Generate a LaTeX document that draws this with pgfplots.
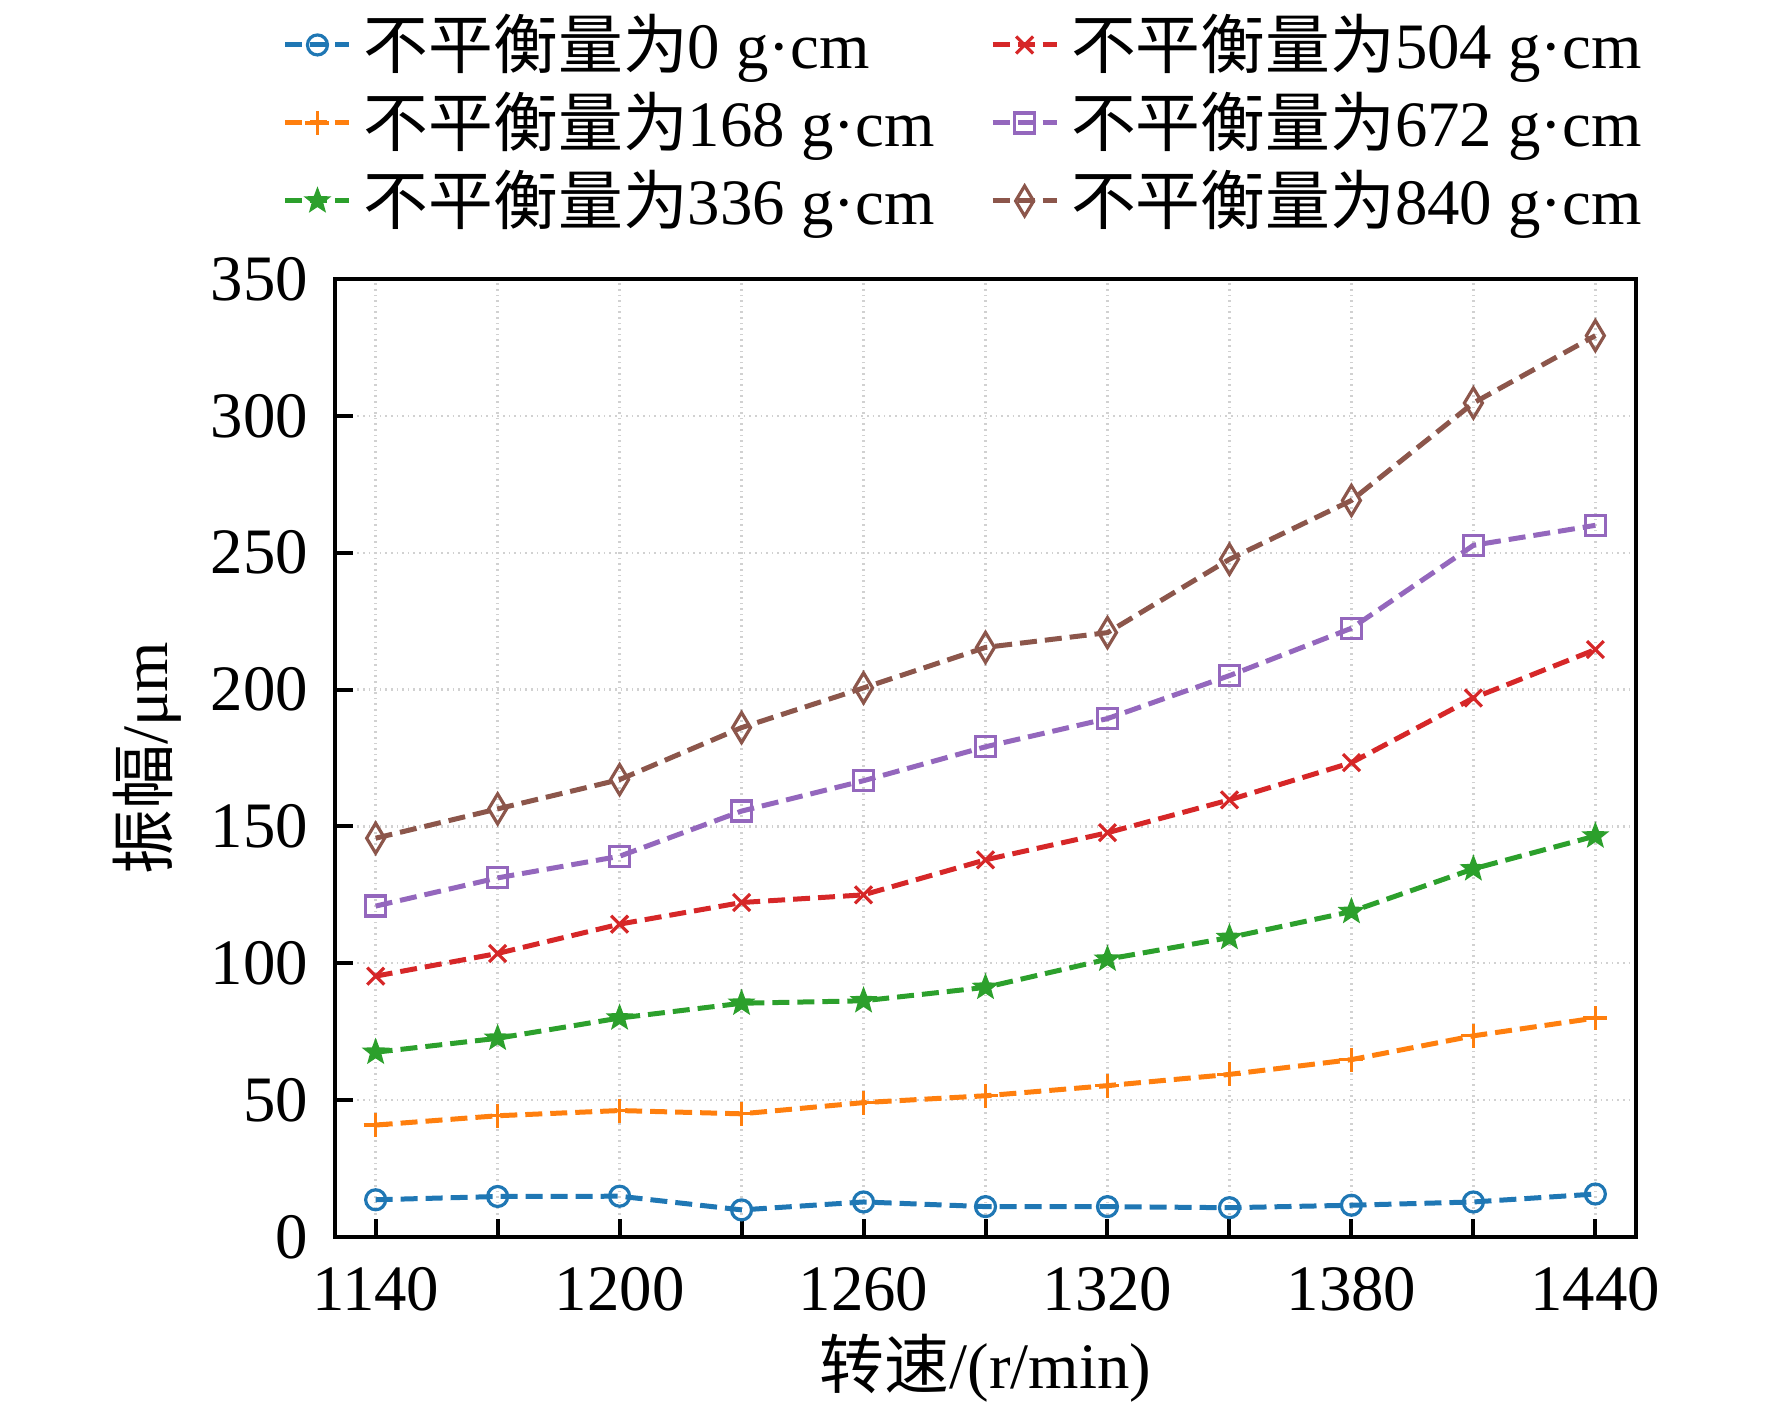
\documentclass[border=0pt]{standalone}
\usepackage{fontspec}
\setmainfont{Liberation Serif}
\newfontfamily\cjk{Noto Sans CJK SC}
\usepackage{pgfplots}
\pgfplotsset{compat=1.18}

\definecolor{tabblue}{HTML}{1F77B4}
\definecolor{taborange}{HTML}{FF7F0E}
\definecolor{tabgreen}{HTML}{2CA02C}
\definecolor{tabred}{HTML}{D62728}
\definecolor{tabpurple}{HTML}{9467BD}
\definecolor{tabbrown}{HTML}{8C564B}

\pgfdeclareplotmark{fstar}{%
  \pgfpathmoveto{\pgfpointpolar{90}{\pgfplotmarksize}}%
  \pgfpathlineto{\pgfpointpolar{126}{0.42\pgfplotmarksize}}%
  \pgfpathlineto{\pgfpointpolar{162}{\pgfplotmarksize}}%
  \pgfpathlineto{\pgfpointpolar{198}{0.42\pgfplotmarksize}}%
  \pgfpathlineto{\pgfpointpolar{234}{\pgfplotmarksize}}%
  \pgfpathlineto{\pgfpointpolar{270}{0.42\pgfplotmarksize}}%
  \pgfpathlineto{\pgfpointpolar{306}{\pgfplotmarksize}}%
  \pgfpathlineto{\pgfpointpolar{342}{0.42\pgfplotmarksize}}%
  \pgfpathlineto{\pgfpointpolar{18}{\pgfplotmarksize}}%
  \pgfpathlineto{\pgfpointpolar{54}{0.42\pgfplotmarksize}}%
  \pgfpathclose
  \pgfusepathqfillstroke}

\pgfdeclareplotmark{tdiamond}{%
  \pgfpathmoveto{\pgfqpoint{0pt}{1.5\pgfplotmarksize}}%
  \pgfpathlineto{\pgfqpoint{0.9\pgfplotmarksize}{0pt}}%
  \pgfpathlineto{\pgfqpoint{0pt}{-1.5\pgfplotmarksize}}%
  \pgfpathlineto{\pgfqpoint{-0.9\pgfplotmarksize}{0pt}}%
  \pgfpathclose
  \pgfusepathqstroke}

\begin{document}
\begin{tikzpicture}
\begin{axis}[
  at={(0,0)}, anchor=south west,
  scale only axis, width=325.25pt, height=239.5pt,
  xmin=1130, xmax=1450, ymin=0, ymax=350,
  xtick={1140,1170,...,1440},
  xticklabels={1140,,1200,,1260,,1320,,1380,,1440},
  ytick={0,50,...,350},
  tick align=inside, xtick pos=bottom, ytick pos=left,
  major tick length=4.5pt,
  every tick/.style={black, line width=1pt},
  axis line style={line width=1.1pt},
  grid=major,
  major grid style={densely dotted, line width=0.6pt, black!18},
  font=\fontsize{16.2pt}{19pt}\selectfont,
  /pgf/number format/assume math mode=true,
  xticklabel style={inner sep=0pt, anchor=north, yshift=-7.5pt},
  yticklabel style={inner sep=0pt, anchor=east, xshift=-6.5pt},
  xlabel={{\cjk 转速}/(r/min)},
  ylabel={{\cjk 振幅}/μm},
  xlabel style={at={(axis description cs:0.5,-0.1367)}, anchor=center, inner sep=0pt},
  ylabel style={at={(axis description cs:-0.1445,0.5)}, anchor=center, inner sep=0pt},
  legend columns=2, legend cell align=left,
  legend style={at={(-0.04,1.2777)}, anchor=north west, draw=none, fill=none,
    inner sep=0pt, outer sep=0pt, row sep=3.5pt,
    font=\fontsize{16.2pt}{19pt}\selectfont,
    nodes={inner sep=0pt, text height=14pt, text depth=2pt},
    /tikz/every odd column/.style={column sep=3pt},
    /tikz/every even column/.style={column sep=13.9pt}},
  legend image code/.code={\draw[mark repeat=2,mark phase=2,#1] plot coordinates {(0pt,0pt) (8pt,0pt) (16pt,0pt)};},
  every axis plot/.append style={line width=1.25pt, dash pattern=on 4.25pt off 2pt},
]
\addplot[tabblue, mark=o, mark size=2.5pt, mark options={solid, line width=0.8pt}] coordinates {
(1140,13.6) (1170,14.8) (1200,14.9) (1230,9.9) (1260,12.8) (1290,11.1) (1320,11.1) (1350,10.7) (1380,11.6) (1410,12.8) (1440,15.7)};
\addlegendentry{{\cjk 不平衡量为}0 g·cm}
\addplot[tabred, mark=x, mark size=3pt, mark options={solid, line width=0.8pt}] coordinates {
(1140,95.3) (1170,103.6) (1200,114.3) (1230,122.2) (1260,125) (1290,137.8) (1320,147.7) (1350,159.7) (1380,173.3) (1410,196.9) (1440,214.6)};
\addlegendentry{{\cjk 不平衡量为}504 g·cm}
\addplot[taborange, mark=+, mark size=3pt, mark options={solid, line width=0.8pt}] coordinates {
(1140,40.9) (1170,44.3) (1200,46.2) (1230,45) (1260,49.1) (1290,51.6) (1320,55.3) (1350,59.4) (1380,64.8) (1410,73.5) (1440,80)};
\addlegendentry{{\cjk 不平衡量为}168 g·cm}
\addplot[tabpurple, mark=square, mark size=2.5pt, mark options={solid, line width=0.8pt}] coordinates {
(1140,120.9) (1170,131.2) (1200,139.1) (1230,155.6) (1260,166.7) (1290,179.1) (1320,189.4) (1350,205.1) (1380,222.4) (1410,252.7) (1440,260)};
\addlegendentry{{\cjk 不平衡量为}672 g·cm}
\addplot[tabgreen, mark=fstar, mark size=2.8pt, mark options={solid, line width=0.6pt, fill=tabgreen}] coordinates {
(1140,67.5) (1170,72.6) (1200,80) (1230,85.4) (1260,86.3) (1290,91.2) (1320,101.5) (1350,109.4) (1380,118.9) (1410,134.5) (1440,146.5)};
\addlegendentry{{\cjk 不平衡量为}336 g·cm}
\addplot[tabbrown, mark=tdiamond, mark size=2.5pt, mark options={solid, line width=0.8pt}] coordinates {
(1140,145.7) (1170,156.4) (1200,167.1) (1230,186.1) (1260,200.6) (1290,215.4) (1320,220.8) (1350,247.6) (1380,269.1) (1410,304.7) (1440,329.3)};
\addlegendentry{{\cjk 不平衡量为}840 g·cm}
\end{axis}
\pgfresetboundingbox
\path[use as bounding box] (-83.75pt,-43pt) rectangle (359.25pt,309.25pt);
\end{tikzpicture}
\end{document}
